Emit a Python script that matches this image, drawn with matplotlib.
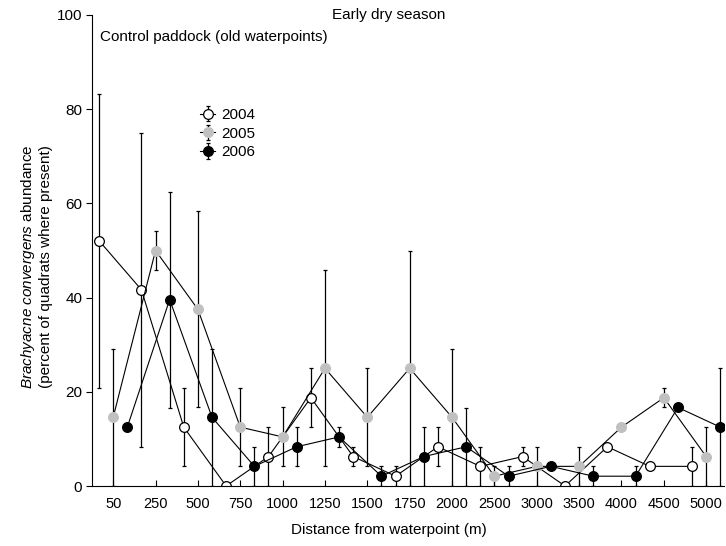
import matplotlib
matplotlib.use("Agg")
import matplotlib.pyplot as plt
import numpy as np

plt.rcParams['font.family'] = ['Liberation Sans', 'DejaVu Sans']
plt.rcParams['mathtext.fontset'] = 'custom'
plt.rcParams['mathtext.rm'] = 'Liberation Sans'
plt.rcParams['mathtext.it'] = 'Liberation Sans:italic'

categories = ["50", "250", "500", "750", "1000", "1250", "1500", "1750",
              "2000", "2500", "3000", "3500", "4000", "4500", "5000"]

v2004 = [52.08, 41.67, 12.5, 0, 6.25, 18.75, 6.25, 2.08, 8.33, 4.17, 6.25, 0, 8.33, 4.17, 4.17]
e2004 = [31.25, 33.33, 8.33, 0, 6.25, 6.25, 2.08, 2.08, 4.17, 4.17, 2.08, 0, 0, 0, 4.17]
v2005 = [14.58, 50, 37.5, 12.5, 10.42, 25, 14.58, 25, 14.58, 2.08, 4.17, 4.17, 12.5, 18.75, 6.25]
e2005 = [14.58, 4.17, 20.83, 8.33, 6.25, 20.83, 10.42, 25, 14.58, 2.08, 4.17, 4.17, 0, 2.08, 6.25]
v2006 = [12.5, 39.58, 14.58, 4.17, 8.33, 10.42, 2.08, 6.25, 8.33, 2.08, 4.17, 2.08, 2.08, 16.67, 12.5]
e2006 = [0, 22.92, 14.58, 4.17, 4.17, 2.08, 2.08, 6.25, 8.33, 2.08, 0, 2.08, 2.08, 0, 12.5]

W, H = 726, 546
fig = plt.figure(figsize=(W / 100, H / 100), dpi=100)
ax = fig.add_axes([92 / W, (H - 486) / H, (724 - 92) / W, (486 - 15) / H])

x = np.arange(len(categories))
series = [
    ("2004", v2004, e2004, -1 / 3, dict(marker='o', mfc='white', mec='black', color='black')),
    ("2005", v2005, e2005, 0.0, dict(marker='o', mfc='#c0c0c0', mec='#c0c0c0', color='black')),
    ("2006", v2006, e2006, 1 / 3, dict(marker='o', mfc='black', mec='black', color='black')),
]
handles = []
for label, vals, errs, off, st in series:
    h = ax.errorbar(x + off, vals, yerr=errs, ms=7, mew=0.9, lw=0.8,
                    ecolor='black', elinewidth=0.9, capsize=1.5, capthick=0.9,
                    label=label, **st)
    handles.append(h)

ax.set_xlim(-0.5, 14.42)
ax.set_ylim(0, 100)
ax.set_xticks(x)
ax.set_xticklabels(categories)
ax.set_yticks([0, 20, 40, 60, 80, 100])
ax.tick_params(axis='x', direction='in', length=4, width=0.8, labelsize=10.5, pad=8)
ax.tick_params(axis='y', direction='out', length=4, width=0.8, labelsize=11, pad=3)
for s in ['top', 'right']:
    ax.spines[s].set_visible(False)
for s in ['left', 'bottom']:
    ax.spines[s].set_linewidth(0.8)

leg = ax.legend(handles=handles, labels=["2004", "2005", "2006"],
                loc='upper left', bbox_to_anchor=(200 / W, (H - 108) / H),
                bbox_transform=fig.transFigure, frameon=False, fontsize=11,
                handlelength=1.0, handletextpad=0.4, labelspacing=0.31,
                borderpad=0, borderaxespad=0)

fig.text(332 / W, 1 - 15 / H, "Early dry season", ha='left', va='center', fontsize=11)
fig.text(100 / W, 1 - 37 / H, "Control paddock (old waterpoints)", ha='left', va='center', fontsize=11)
fig.text(291 / W, 1 - 530 / H, "Distance from waterpoint (m)", ha='left', va='center', fontsize=11)
fig.text(36 / W, 1 - 267 / H,
         r"$\it{Brachyacne}$ $\it{convergens}$ abundance" + "\n(percent of quadrats where present)",
         rotation=90, ha='center', va='center', fontsize=11, multialignment='center')

fig.savefig("out.png", dpi=100)
